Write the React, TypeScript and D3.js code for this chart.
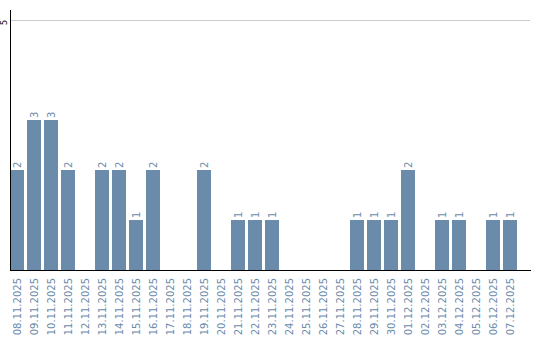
import React from "react";
import * as d3 from "d3";

const dates = [
  "08.11.2025", "09.11.2025", "10.11.2025", "11.11.2025", "12.11.2025",
  "13.11.2025", "14.11.2025", "15.11.2025", "16.11.2025", "17.11.2025",
  "18.11.2025", "19.11.2025", "20.11.2025", "21.11.2025", "22.11.2025",
  "23.11.2025", "24.11.2025", "25.11.2025", "26.11.2025", "27.11.2025",
  "28.11.2025", "29.11.2025", "30.11.2025", "01.12.2025", "02.12.2025",
  "03.12.2025", "04.12.2025", "05.12.2025", "06.12.2025", "07.12.2025",
];
const counts = [2, 3, 3, 2, 0, 2, 2, 1, 2, 0, 0, 2, 0, 1, 1, 1, 0, 0, 0, 0, 1, 1, 1, 2, 0, 1, 1, 0, 1, 1];
const yTicks = [5];

const W = 540;
const H = 340;
const left = 10;
const bottom = 270;
const top = 20;
const color = "#6b8bab";
const font = "DejaVu Sans, sans-serif";

export default function App() {
  const x = d3.scaleBand<string>().domain(dates).range([left, 517]).paddingInner(3 / 17).paddingOuter(0);
  const y = d3.scaleLinear().domain([0, 5]).range([bottom, top]);
  return (
    <svg width={W} height={H} style={{ position: "absolute", left: 0, top: 0 }}>
      {yTicks.map((t) => (
        <g key={t}>
          <line x1={left} x2={530} y1={y(t) + 0.5} y2={y(t) + 0.5} stroke="#cccccc" strokeWidth={1} />
          <text
            transform={`translate(6.5, ${y(t) + 5}) rotate(-90)`}
            fontFamily={font}
            fontSize={8}
            fill="#000"
          >
            {t}
          </text>
        </g>
      ))}
      {dates.map((d, i) => {
        const v = counts[i];
        const bx = x(d)!;
        const bw = x.bandwidth();
        const cx = bx + bw / 2;
        return (
          <g key={d}>
            {v > 0 && <rect x={bx} y={y(v)} width={bw} height={bottom - y(v)} fill={color} />}
            {v > 0 && (
              <text
                transform={`translate(${cx}, ${y(v) - 2}) rotate(-90)`}
                dy="0.35em"
                fontFamily={font}
                fontSize={10}
                fill={color}
                textAnchor="start"
              >
                {v}
              </text>
            )}
            <text
              transform={`translate(${cx}, ${bottom + 8}) rotate(-90)`}
              dy="0.35em"
              fontFamily={font}
              fontSize={10}
              fill={color}
              textAnchor="end"
            >
              {d}
            </text>
          </g>
        );
      })}
      <line x1={left + 0.5} x2={left + 0.5} y1={10} y2={bottom} stroke="#000" strokeWidth={1} />
      <line x1={left} x2={531} y1={bottom + 0.5} y2={bottom + 0.5} stroke="#000" strokeWidth={1} />
    </svg>
  );
}
